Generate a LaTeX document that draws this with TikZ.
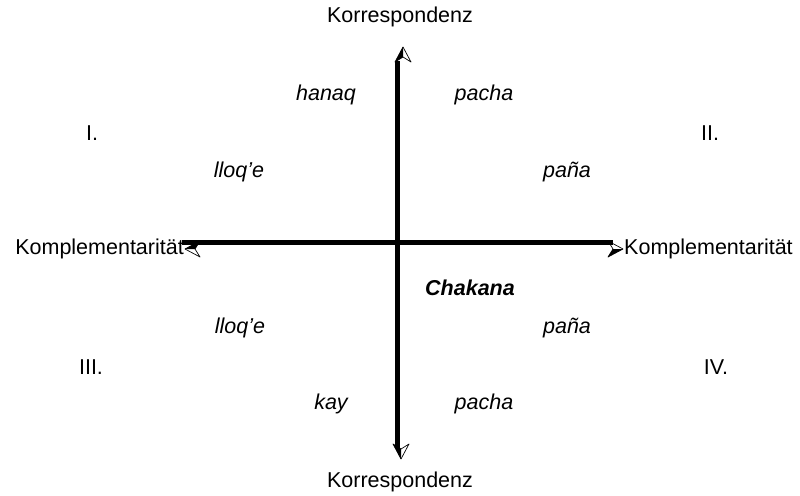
\documentclass[tikz,border=0pt]{standalone}
\usepackage{fontspec}
\setmainfont{Liberation Sans}
\usetikzlibrary{positioning}

\tikzset{
  axis/.style={line width=5pt},
  plain/.style={font=\fontsize{21.5}{25}\selectfont, inner sep=0pt},
  word/.style={plain, font=\fontsize{21.5}{25}\selectfont\itshape},
  halftip/.pic={
    \fill (0,0) -- (-8,15) -- (0,10) -- cycle;
    \draw[line width=0.7pt, line join=round] (0,0) -- (-8,15) -- (0,10) -- (8,15) -- cycle;
  },
  halftipR/.pic={
    \fill (0,0) -- (8,15) -- (0,10) -- cycle;
    \draw[line width=0.7pt, line join=round] (0,0) -- (-8,15) -- (0,10) -- (8,15) -- cycle;
  }
}

\begin{document}
\begin{tikzpicture}[x=1pt, y=-1pt]
    \useasboundingbox (0,0) rectangle (800,495);
    % Axes
    \coordinate (topEnd) at (397,61);
    \coordinate (botEnd) at (397,449);
    \coordinate (leftEnd) at (182,242);
    \coordinate (rightEnd) at (613,242);
    \draw[axis] (topEnd) -- (botEnd);
    \draw[axis] (leftEnd) -- (rightEnd);
    % Arrow tips
    \coordinate (topTip) at (403,47);
    \coordinate (botTip) at (401,459);
    \coordinate (leftTip) at (185,249);
    \coordinate (rightTip) at (623,249);
    \pic at (topTip) {halftip};
    \pic[rotate=180] at (botTip) {halftipR};
    \pic[rotate=90] at (leftTip) {halftipR};
    \pic[rotate=-90] at (rightTip) {halftipR};
    % Axis labels
    \node[plain] (korrTop) at (400,17) {Korrespondenz};
    \node[plain] (korrBot) at (400,482) {Korrespondenz};
    \node[plain, left=1pt of leftTip] (kompLeft) {Komplementarität};
    \node[plain, right=1pt of rightTip] (kompRight) {Komplementarität};
    % Quadrants
    \node[plain] (qI) at (92,133) {I.};
    \node[plain] (qII) at (710,133) {II.};
    \node[plain] (qIII) at (91,367) {III.};
    \node[plain] (qIV) at (716,367) {IV.};
    % Words
    \node[word] (hanaq) at (326,95) {hanaq};
    \node[word] (pachaTop) at (484,95) {pacha};
    \node[word] (lloqeTop) at (239,172) {lloq'e};
    \node[word] (panaTop) at (567,172) {paña};
    \node[word, font=\fontsize{21.5}{25}\selectfont\bfseries\itshape] (chakana) at (470,288) {Chakana};
    \node[word] (lloqeBot) at (240,328) {lloq'e};
    \node[word] (panaBot) at (567,328) {paña};
    \node[word] (kay) at (331,404) {kay};
    \node[word] (pachaBot) at (484,404) {pacha};
\end{tikzpicture}
\end{document}
